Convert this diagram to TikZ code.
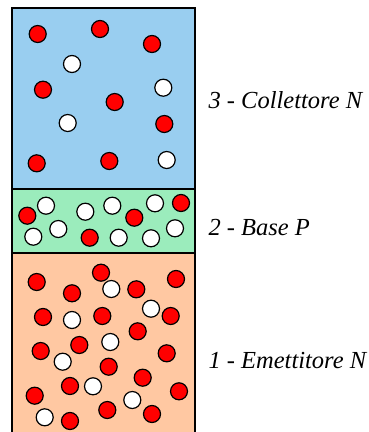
\documentclass[tikz,border=0pt]{standalone}
\usepackage{fontspec}
\setmainfont{Liberation Serif}
\newfontfamily\corsivo{Liberation Serif Italic}
\definecolor{collettore}{RGB}{153,206,240}
\definecolor{base}{RGB}{155,236,188}
\definecolor{emettitore}{RGB}{255,200,162}
\tikzset{
  elettrone/.style={circle,draw=black,fill=red,line width=1.2pt,minimum size=17pt,inner sep=0pt},
  lacuna/.style={elettrone,fill=white},
  strato/.style={draw=black,line width=1.6pt},
  etichetta/.style={anchor=base west,font=\corsivo\fontsize{24.5}{29}\selectfont}
}
\begin{document}
\begin{tikzpicture}[x=1pt,y=-1pt]
\useasboundingbox (0,0) rectangle (369,432);
% strati
\filldraw[strato,fill=collettore] (12,8) rectangle (195,189);
\filldraw[strato,fill=base] (12,189) rectangle (195,253);
\filldraw[strato,fill=emettitore] (12,253) rectangle (195,440);
% collettore
\foreach \x/\y [count=\i] in {37.7/34,100/29,152/44,43/89.7,114.7/102,164.3/124,36.7/163.3,109.3/161}
  \node[elettrone] (ce\i) at (\x,\y) {};
\foreach \x/\y [count=\i] in {72/64,163.3/87.7,67.7/123,166.7/160}
  \node[lacuna] (cl\i) at (\x,\y) {};
% base
\foreach \x/\y [count=\i] in {27.3/215.7,134.3/217.7,181/203,89.7/237.7}
  \node[elettrone] (be\i) at (\x,\y) {};
\foreach \x/\y [count=\i] in {46/205.7,85.3/211.7,112.3/205.7,155/203.3,33.3/236.7,58.3/229,118.7/237.7,151/238.3,175/228.3}
  \node[lacuna] (bl\i) at (\x,\y) {};
% emettitore
\foreach \x/\y [count=\i] in {36.7/282,101/272.7,176/279,72/293.3,136.3/289.3,43/317,102.3/316,170.7/316,137.7/331.3,40.7/351,79.3/345,166.7/353.3,108.7/366.7,70/386,142.7/377.7,34.7/395.7,179/391.3,107.3/410,152/414,70/421}
  \node[elettrone] (ee\i) at (\x,\y) {};
\foreach \x/\y [count=\i] in {111.3/289,151/308.7,72/320,110.3/342,62.7/361.7,93/386.3,132.3/400,44.7/417.3}
  \node[lacuna] (el\i) at (\x,\y) {};
% etichette
\node[etichetta] (coll) at (205,108.3) {3 - Collettore N};
\node[etichetta] (bas) at (205,235) {2 - Base P};
\node[etichetta] (emett) at (205,368.3) {1 - Emettitore N};
\end{tikzpicture}
\end{document}
